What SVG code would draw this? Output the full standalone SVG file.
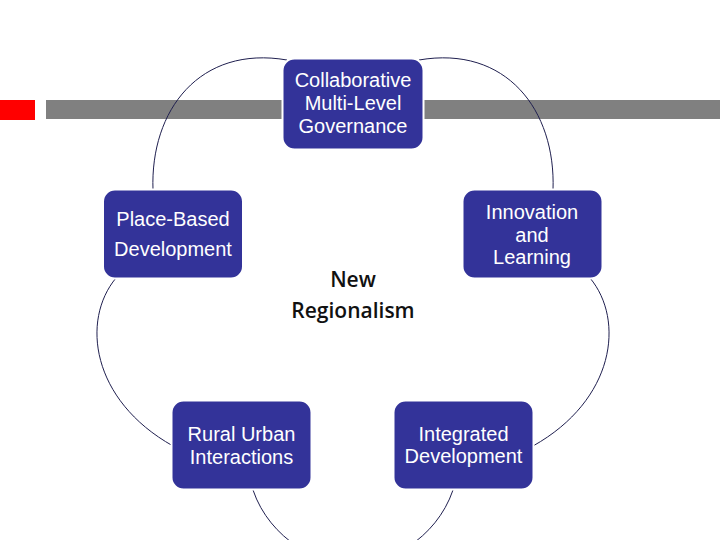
<svg xmlns="http://www.w3.org/2000/svg" width="720" height="540" viewBox="0 0 720 540">
<style>
.node rect{fill:#333399;stroke:#ffffff;stroke-width:2}
.node text{fill:#ffffff;font-family:"Liberation Sans",Arial,sans-serif;font-size:20px;text-anchor:middle}
.conn path{fill:none;stroke:#1f1f4f;stroke-width:1}
.center{fill:#111111;font-family:"Open Sans","Noto Sans",sans-serif;font-weight:600;font-size:21px;text-anchor:middle}
</style>
<rect x="0" y="100" width="35" height="20" fill="#ff0000"/>
<rect x="46" y="100" width="674" height="19" fill="#808080"/>
<g id="connectors" class="conn">
<path d="M287,60 C200,45 150,110 153,190"/>
<path d="M419,60 C506,45 556,110 553,190"/>
<path d="M590,278 C625,320 615,400 533,446"/>
<path d="M116,278 C81,320 91,400 173,446"/>
<path d="M253,490 C270,540 320,565 353,565 C386,565 436,540 453,490"/>
</g>
<g id="collaborative" class="node">
<rect x="282.5" y="58.5" width="141" height="91" rx="12"/>
<text x="353" y="87">Collaborative</text>
<text x="353" y="110">Multi-Level</text>
<text x="353" y="133">Governance</text>
</g>
<g id="place-based" class="node">
<rect x="103" y="189.5" width="140" height="89" rx="12"/>
<text x="173" y="226">Place-Based</text>
<text x="173" y="256">Development</text>
</g>
<g id="innovation" class="node">
<rect x="462.5" y="189.5" width="140" height="89" rx="12"/>
<text x="532" y="219">Innovation</text>
<text x="532" y="242">and</text>
<text x="532" y="264">Learning</text>
</g>
<g id="rural-urban" class="node">
<rect x="171.5" y="400.5" width="140" height="89" rx="12"/>
<text x="241.5" y="441">Rural Urban</text>
<text x="241.5" y="464">Interactions</text>
</g>
<g id="integrated" class="node">
<rect x="393.5" y="400.5" width="140" height="89" rx="12"/>
<text x="463.5" y="441">Integrated</text>
<text x="463.5" y="463">Development</text>
</g>
<g id="new-regionalism">
<text class="center" x="353" y="287">New</text>
<text class="center" x="353" y="318">Regionalism</text>
</g>
</svg>
